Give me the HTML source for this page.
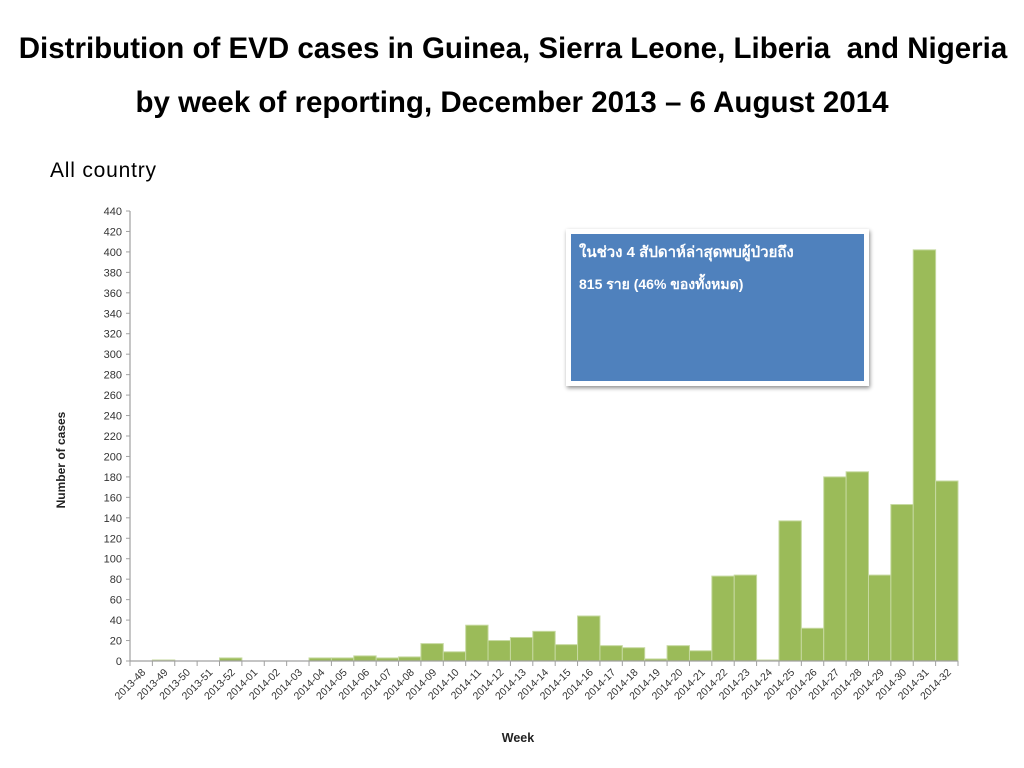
<!DOCTYPE html>
<html><head><meta charset="utf-8"><style>
body{margin:0;width:1024px;height:768px;background:#fff;position:relative;overflow:hidden;font-family:"Liberation Sans",sans-serif}
.t{position:absolute;left:0;width:1024px;text-align:center;font-weight:bold;font-size:29.5px;color:#000;white-space:nowrap}
</style></head><body>
<div class="t" style="top:32px;left:1px">Distribution of EVD cases in Guinea, Sierra Leone, Liberia&nbsp; and Nigeria</div>
<div class="t" style="top:86px;left:0">by week of reporting, December 2013 – 6 August 2014</div>
<div style="position:absolute;left:50px;top:159px;font-size:21px;letter-spacing:0.8px;color:#000">All country</div>
<svg id="chart" width="1024" height="768" style="position:absolute;left:0;top:0"></svg>
<div style="position:absolute;left:566px;top:229px;width:285px;height:147px;background:#4f81bd;border:5px solid #fff;box-shadow:1px 2px 4px rgba(0,0,0,0.45);color:#fff;font-weight:bold;font-size:14px;font-family:'Liberation Sans',sans-serif;padding:0 0 0 8px;box-sizing:content-box">
<div style="margin-top:6px;font-size:15px">ในช่วง 4 สัปดาห์ล่าสุดพบผู้ป่วยถึง</div>
<div style="margin-top:10px">815 ราย (46% ของทั้งหมด)</div>
</div>
<script>
const categories=["2013-48","2013-49","2013-50","2013-51","2013-52","2014-01","2014-02","2014-03","2014-04","2014-05","2014-06","2014-07","2014-08","2014-09","2014-10","2014-11","2014-12","2014-13","2014-14","2014-15","2014-16","2014-17","2014-18","2014-19","2014-20","2014-21","2014-22","2014-23","2014-24","2014-25","2014-26","2014-27","2014-28","2014-29","2014-30","2014-31","2014-32"];
const cases=[0,1,0,0,3,0,0,0,3,3,5,3,4,17,9,35,20,23,29,16,44,15,13,2,15,10,83,84,1,137,32,180,185,84,153,402,176];
const yTicks=[0,20,40,60,80,100,120,140,160,180,200,220,240,260,280,300,320,340,360,380,400,420,440];
const NS="http://www.w3.org/2000/svg";
const svg=document.getElementById('chart');
const x0=130,x1=958,y0=661,yTop=211,yMax=440;
const bw=(x1-x0)/categories.length;
const X=i=>x0+i*bw;
const Y=v=>y0-(v/yMax)*(y0-yTop);
function mk(tag,a){const e=document.createElementNS(NS,tag);for(const k in a)e.setAttribute(k,a[k]);svg.appendChild(e);return e;}
cases.forEach((v,i)=>{
 if(v<=0)return;
 const r=mk('rect',{x:X(i),y:Y(v),width:bw,height:y0-Y(v),fill:'#9bbb59',stroke:'#c6d9a0','stroke-width':1});
 
 
});
const ya=mk('line',{x1:x0,y1:yTop,x2:x0,y2:y0,stroke:'#a0a0a0','stroke-width':1.2});


const xa=mk('line',{x1:x0,y1:y0,x2:x1,y2:y0,stroke:'#a0a0a0','stroke-width':1.2});


yTicks.forEach(t=>{
 mk('line',{x1:x0-4,y1:Y(t),x2:x0,y2:Y(t),stroke:'#a0a0a0'});
 const tx=mk('text',{x:x0-8,y:Y(t)+4,'text-anchor':'end','font-size':11,fill:'#333','font-family':'Liberation Sans, sans-serif'});
 tx.textContent=t;
 
 
});
for(let i=0;i<=categories.length;i++) mk('line',{x1:X(i),y1:y0,x2:X(i),y2:y0+5,stroke:'#a0a0a0'});
categories.forEach((c,i)=>{
 const cx=X(i)+bw/2+5, cy=y0+12;
 const tx=mk('text',{x:cx,y:cy,'text-anchor':'end','font-size':10.5,fill:'#333','font-family':'Liberation Sans, sans-serif',transform:`rotate(-45 ${cx} ${cy})`});
 tx.textContent=c;
 
 
});
const yt=mk('text',{x:65,y:460,'text-anchor':'middle','font-size':12,'font-weight':'bold',fill:'#222','font-family':'Liberation Sans, sans-serif',transform:'rotate(-90 65 460)'});
yt.textContent='Number of cases';


const xt=mk('text',{x:518,y:742,'text-anchor':'middle','font-size':12.5,'font-weight':'bold',fill:'#222','font-family':'Liberation Sans, sans-serif'});
xt.textContent='Week';


</script>
</body></html>
